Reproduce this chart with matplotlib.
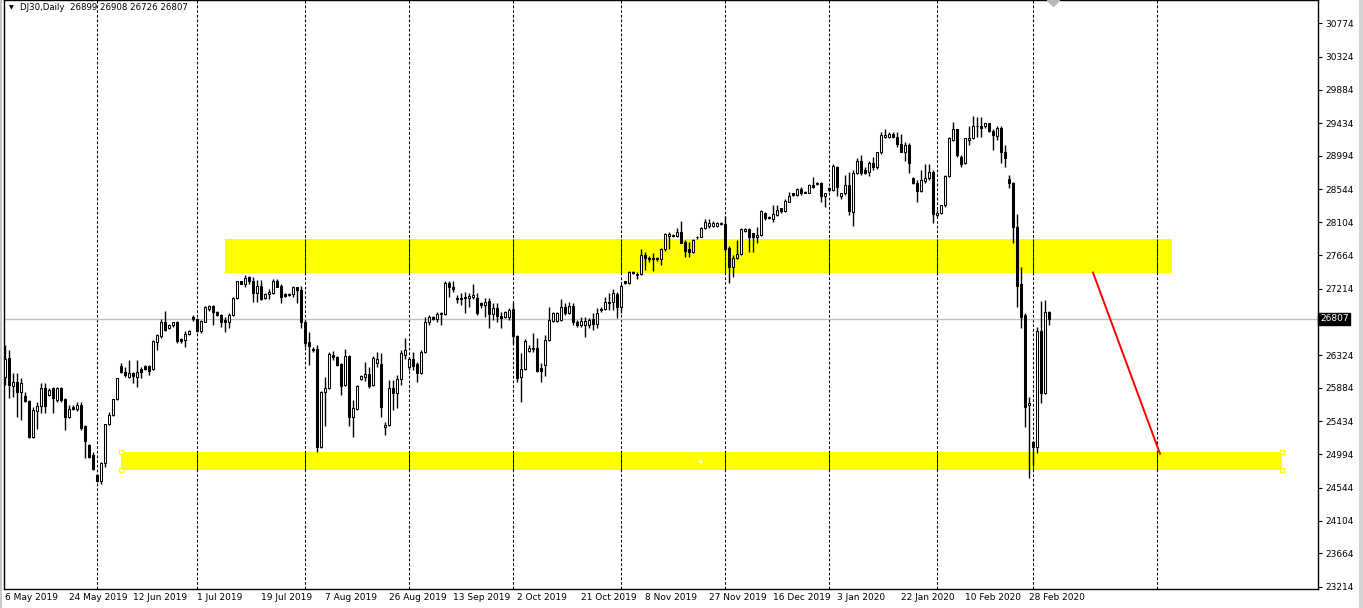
"""DJ30 daily candlestick chart in MetaTrader style."""

import matplotlib
matplotlib.use("Agg")
import matplotlib.pyplot as plt
import numpy as np
from matplotlib.patches import Rectangle
from matplotlib.transforms import blended_transform_factory

# daily bars, 6 May 2019 .. early Mar 2020 (one bar per trading day incl. Sundays)
open_ = [
    26030, 26290, 25910, 25960, 25830, 25780, 25710, 25230, 25570, 25640,
    25880, 25790, 25880, 25720, 25880, 25740, 25490, 25630, 25600, 25660,
    25370, 25120, 24980, 24720, 24640, 24880, 25400, 25520, 25740, 26180,
    26100, 26030, 26080, 26030, 26130, 26170, 26170, 26140, 26500, 26580,
    26760, 26690, 26720, 26770, 26540, 26530, 26610, 26840, 26810, 26650,
    26770, 26940, 26980, 26900, 26860, 26800, 26760, 26860, 27090, 27310,
    27270, 27370, 27320, 27160, 27250, 27090, 27140, 27160, 27320, 27250,
    27140, 27140, 27140, 27230, 27200, 26770, 26500, 26410, 26410, 25090,
    25830, 25880, 26330, 26300, 26210, 25920, 26310, 25490, 25600, 26000,
    26030, 26070, 25920, 26220, 26210, 25360, 25390, 25880, 25820, 26000,
    26330, 26160, 26270, 26210, 26080, 26370, 26760, 26840, 26810, 26890,
    26880, 27290, 27230, 27090, 27090, 27090, 27090, 27100, 27090, 27020,
    27000, 27050, 26880, 26960, 26850, 26840, 26840, 26940, 26580, 26030,
    26140, 26380, 26410, 26420, 26150, 26190, 26530, 26780, 26780, 26800,
    26970, 26890, 26980, 26770, 26730, 26720, 26730, 26810, 26740, 26940,
    26940, 27040, 27040, 27140, 26970, 27310, 27290, 27440, 27410, 27410,
    27670, 27630, 27630, 27630, 27610, 27740, 27920, 27940, 27920, 27980,
    27840, 27740, 27710, 27910, 27910, 28030, 28060, 28060, 28060, 28100,
    28080, 27760, 27510, 27630, 27680, 27990, 28020, 27960, 27900, 27940,
    28230, 28180, 28150, 28200, 28290, 28260, 28380, 28490, 28470, 28550,
    28510, 28500, 28610, 28630, 28630, 28450, 28570, 28540, 28850, 28450,
    28490, 28610, 28240, 28770, 28920, 28810, 28780, 28900, 28840, 29040,
    29250, 29250, 29290, 29250, 29160, 29050, 29140, 28700, 28630, 28530,
    28660, 28700, 28780, 28200, 28230, 28330, 28730, 29210, 29350, 28980,
    28900, 29210, 29240, 29390, 29390, 29390, 29430, 29330, 29260, 29370,
    29050, 28690, 28630, 28040, 27270, 26860, 25650, 25160, 25090, 26650,
    25820, 26899,
]
high = [
    26460, 26390, 26080, 26080, 26020, 25830, 25720, 25630, 25700, 25950,
    25950, 25880, 25900, 25900, 25900, 25750, 25650, 25650, 25700, 25700,
    25390, 25130, 25020, 24730, 24890, 25400, 25560, 25740, 26020, 26220,
    26160, 26260, 26100, 26260, 26160, 26190, 26190, 26530, 26610, 26810,
    26920, 26740, 26770, 26780, 26550, 26650, 26660, 26860, 26820, 26800,
    26980, 27000, 27000, 26920, 26880, 26840, 26890, 27100, 27320, 27320,
    27400, 27390, 27370, 27330, 27330, 27160, 27210, 27350, 27350, 27270,
    27160, 27160, 27250, 27240, 27250, 26800, 26630, 26430, 26460, 25840,
    26030, 26370, 26380, 26310, 26220, 26410, 26330, 25720, 25920, 26060,
    26230, 26160, 26310, 26370, 26350, 25430, 25990, 25990, 26060, 26390,
    26550, 26300, 26370, 26230, 26390, 26840, 26860, 26850, 26900, 26900,
    27310, 27310, 27310, 27130, 27160, 27170, 27160, 27270, 27160, 27040,
    27090, 27090, 27020, 27020, 26900, 26920, 26960, 27040, 26590, 26350,
    26540, 26460, 26620, 26550, 26220, 26590, 26970, 26900, 26900, 27080,
    27020, 27040, 27020, 26800, 26840, 26840, 26820, 26890, 26960, 26970,
    27100, 27160, 27210, 27170, 27270, 27320, 27450, 27450, 27440, 27740,
    27710, 27650, 27690, 27640, 27760, 27960, 27980, 27950, 28030, 28120,
    27870, 27840, 27880, 27920, 28040, 28150, 28150, 28120, 28110, 28110,
    28190, 27780, 27670, 27870, 28030, 28030, 28030, 27960, 28040, 28270,
    28240, 28190, 28340, 28340, 28300, 28420, 28510, 28500, 28570, 28580,
    28530, 28620, 28710, 28650, 28650, 28500, 28580, 28880, 28860, 28500,
    28740, 28780, 28810, 28960, 29010, 28840, 28920, 28980, 29050, 29310,
    29350, 29310, 29310, 29310, 29290, 29180, 29170, 28710, 28670, 28810,
    28880, 28880, 28810, 28270, 28340, 28740, 29250, 29450, 29360, 29010,
    29240, 29390, 29530, 29510, 29510, 29440, 29440, 29360, 29390, 29390,
    29140, 28740, 28650, 28220, 27510, 26890, 25760, 25170, 26700, 27050,
    27060, 26908,
]
low = [
    25920, 25750, 25760, 25490, 25450, 25700, 25210, 25210, 25330, 25550,
    25550, 25780, 25550, 25700, 25700, 25320, 25480, 25590, 25570, 25320,
    24940, 24940, 24780, 24620, 24590, 24820, 25390, 25510, 25720, 26080,
    26030, 26020, 25950, 25900, 26020, 26120, 26060, 26120, 26390, 26550,
    26650, 26670, 26700, 26490, 26490, 26430, 26590, 26780, 26630, 26620,
    26760, 26920, 26730, 26850, 26700, 26630, 26690, 26850, 27080, 27270,
    27240, 27280, 27040, 27040, 27060, 27080, 27080, 27140, 27230, 27020,
    27100, 27120, 27100, 27020, 26690, 26430, 26190, 26370, 25020, 25080,
    25370, 25870, 26260, 26180, 25790, 25910, 25370, 25230, 25590, 25990,
    25980, 25880, 25910, 26160, 25490, 25250, 25370, 25590, 25610, 25920,
    26270, 26120, 26120, 25960, 26070, 26350, 26720, 26800, 26760, 26730,
    26860, 27100, 27170, 27020, 27000, 26890, 26970, 27080, 26860, 26960,
    26840, 26690, 26800, 26760, 26690, 26820, 26800, 26470, 25960, 25700,
    26120, 26370, 26370, 26100, 25960, 26040, 26510, 26770, 26760, 26780,
    26860, 26880, 26730, 26700, 26700, 26570, 26690, 26660, 26690, 26900,
    26930, 26930, 26930, 26820, 26890, 27280, 27280, 27410, 27350, 27400,
    27470, 27570, 27450, 27590, 27530, 27720, 27740, 27910, 27910, 27820,
    27640, 27640, 27690, 27880, 27900, 28020, 28030, 28040, 28040, 28070,
    27720, 27290, 27370, 27610, 27670, 27980, 27710, 27710, 27830, 27920,
    28140, 28150, 28110, 28190, 28230, 28240, 28370, 28460, 28460, 28470,
    28490, 28490, 28570, 28610, 28380, 28310, 28510, 28530, 28460, 28420,
    28470, 28200, 28060, 28750, 28740, 28750, 28730, 28810, 28820, 29020,
    29240, 29240, 29240, 29120, 29040, 28920, 28770, 28620, 28380, 28510,
    28630, 28670, 28100, 28180, 28220, 28310, 28710, 29200, 28980, 28840,
    28890, 29140, 29220, 29250, 29250, 29370, 29310, 29080, 29210, 28900,
    28850, 28570, 27830, 26970, 26690, 25360, 24680, 24850, 25010, 25680,
    25800, 26726,
]
close = [
    26270, 25920, 25960, 25830, 25950, 25710, 25230, 25590, 25640, 25880,
    25640, 25860, 25750, 25880, 25720, 25490, 25600, 25600, 25650, 25350,
    25170, 24960, 24800, 24630, 24880, 25400, 25520, 25740, 26020, 26100,
    26060, 26080, 26040, 26100, 26100, 26140, 26110, 26510, 26590, 26760,
    26660, 26730, 26760, 26510, 26510, 26610, 26650, 26810, 26650, 26780,
    26970, 26980, 26900, 26860, 26760, 26760, 26860, 27090, 27310, 27280,
    27360, 27320, 27160, 27250, 27080, 27140, 27170, 27320, 27240, 27100,
    27120, 27130, 27230, 27200, 26770, 26490, 26450, 26390, 25090, 25830,
    25880, 26340, 26300, 26190, 25910, 26310, 25490, 25610, 25910, 26040,
    26070, 25910, 26290, 26270, 25630, 25390, 25880, 25820, 26000, 26350,
    26390, 26270, 26180, 26080, 26370, 26760, 26840, 26810, 26880, 26880,
    27290, 27230, 27210, 27080, 27080, 27100, 27120, 27130, 26890, 27000,
    27040, 26880, 26960, 26850, 26820, 26900, 26930, 26580, 26020, 26140,
    26510, 26420, 26420, 26110, 26110, 26530, 26800, 26890, 26890, 26970,
    26890, 26980, 26760, 26730, 26780, 26780, 26800, 26740, 26890, 26930,
    27040, 27020, 27150, 26970, 27250, 27290, 27440, 27430, 27400, 27670,
    27630, 27610, 27610, 27610, 27740, 27950, 27950, 27920, 27980, 27830,
    27720, 27710, 27860, 27900, 28030, 28110, 28100, 28100, 28100, 28080,
    27750, 27510, 27630, 27680, 28020, 28020, 27900, 27900, 27940, 28250,
    28160, 28160, 28210, 28270, 28260, 28390, 28460, 28470, 28550, 28500,
    28500, 28610, 28580, 28620, 28450, 28490, 28540, 28860, 28580, 28490,
    28610, 28250, 28770, 28930, 28770, 28770, 28900, 28840, 29040, 29280,
    29280, 29290, 29250, 29160, 29050, 29140, 28900, 28630, 28530, 28670,
    28700, 28780, 28210, 28230, 28330, 28730, 29230, 29350, 29010, 28890,
    29230, 29240, 29400, 29400, 29370, 29430, 29330, 29270, 29370, 29040,
    28960, 28630, 28040, 27250, 26840, 25630, 25680, 25090, 26650, 25820,
    26900, 26807,
]

# x-axis date labels (every 16 bars) and first bar of each month
date_labels = ["6 May 2019", "24 May 2019", "12 Jun 2019", "1 Jul 2019",
               "19 Jul 2019", "7 Aug 2019", "26 Aug 2019", "13 Sep 2019",
               "2 Oct 2019", "21 Oct 2019", "8 Nov 2019", "27 Nov 2019",
               "16 Dec 2019", "3 Jan 2020", "22 Jan 2020", "10 Feb 2020",
               "28 Feb 2020"]
date_bars = [0, 16, 32, 48, 64, 80, 96, 112, 128, 144, 160, 176, 192, 208,
             224, 240, 256]
month_bars = [23, 48, 75, 101, 127, 154, 180, 206, 233, 257, 288]

price_ticks = [30774, 30324, 29884, 29434, 28994, 28544, 28104, 27664, 27214,
               26774, 26324, 25884, 25434, 24994, 24544, 24104, 23664, 23214]
hidden_tick = 26774  # covered by the last-price box
last_price = 26807
title = "DJ30,Daily  26899 26908 26726 26807"

# drawn objects: (bar_from, bar_to, price_low, price_high)
upper_zone = (55, 291.75, 27430, 27880)
lower_zone = (29, 319.25, 24780, 25020)
red_line = ((272, 288.75), (27430, 25000))

W, H = 1363, 608
fig = plt.figure(figsize=(W / 100, H / 100), dpi=100)
fig.patch.set_facecolor("white")
ax = fig.add_axes([4 / W, 19 / H, 1314 / W, 589 / H])
ax.set_xlim(-0.25, 328.25)
ax.set_ylim(23186, 31085)

# zones
for x0, x1, p0, p1 in (upper_zone, lower_zone):
    ax.add_patch(Rectangle((x0, p0), x1 - x0, p1 - p0, facecolor="#FFFF00",
                           edgecolor="none", zorder=1))

# month separators, blue where they cross the yellow zones
for m in month_bars:
    ax.axvline(m, color="black", lw=0.75, ls=(0, (2.7, 1.8)), zorder=2)
    for x0, x1, p0, p1 in (upper_zone, lower_zone):
        if x0 <= m <= x1:
            ax.plot([m, m], [p0, p1], color="#0000B0", lw=0.75,
                    ls=(0, (2.7, 1.8)), zorder=2.1)

ax.axhline(last_price, color="#C0C0C0", lw=1, zorder=2)

# candles
o = np.array(open_)
h = np.array(high)
l = np.array(low)
c = np.array(close)
x = np.arange(len(o))
ax.vlines(x, l, h, color="black", lw=1, zorder=3)
up = c >= o
ax.bar(x, np.abs(c - o), bottom=np.minimum(o, c), width=0.55,
       color=np.where(up, "white", "black"), edgecolor="black", lw=0.75,
       zorder=4)

# red projection line
ax.plot(red_line[0], red_line[1], color="red", lw=1.4, zorder=5)

# handles of the selected lower zone
x0, x1, p0, p1 = lower_zone
hx = [x0, x0, x1, x1]
hy = [p0, p1, p0, p1]
ax.plot(hx, hy, ls="none", marker="s", ms=3.2, mfc="white", mec="#FFFF00",
        mew=0.9, zorder=6, clip_on=False)
ax.plot([(x0 + x1) / 2 - 0.5], [(p0 + p1) / 2], ls="none", marker="s",
        ms=1.8, mfc="white", mec="white", zorder=6)

# chart shift marker at top
ax.plot([262], [31085], marker="D", ms=6, color="#B8B8B8", zorder=6)

# axes styling
for side in ("left", "right", "top", "bottom"):
    ax.spines[side].set_color("black")
    ax.spines[side].set_linewidth(1)
ax.yaxis.tick_right()
ax.set_yticks(price_ticks)
ax.set_yticklabels(["" if p == hidden_tick else str(p) for p in price_ticks])
ax.tick_params(axis="y", direction="out", length=3, width=0.8, pad=2,
               labelsize=6.5, colors="black")
ax.set_xticks(date_bars)
ax.set_xticklabels(date_labels)
ax.tick_params(axis="x", length=0, pad=3, labelsize=6.5)
for lbl in ax.get_xticklabels():
    lbl.set_horizontalalignment("left")

# current price box on the price scale
trans = blended_transform_factory(ax.transAxes, ax.transData)
ax.text(1.0015, last_price, str(last_price), transform=trans, ha="left",
        va="center", color="white", fontsize=6.5, zorder=10, clip_on=False,
        bbox=dict(boxstyle="square,pad=0.18", fc="black", ec="black"))

# title
fig.text(9 / W, 1 - 8 / H, "\u25BC", fontsize=4.5, va="center", ha="left")
fig.text(20 / W, 1 - 8 / H, title, fontsize=6.2, va="center", ha="left",
         color="#000010")

# window borders
fig.patches.append(Rectangle((0, 0), 2 / W, 1, transform=fig.transFigure,
                             facecolor="#C8C8C8", edgecolor="none"))
fig.patches.append(Rectangle((1359 / W, 0), 4 / W, 1, transform=fig.transFigure,
                             facecolor="#D4D4D4", edgecolor="none"))

fig.savefig("out.png", dpi=100)
